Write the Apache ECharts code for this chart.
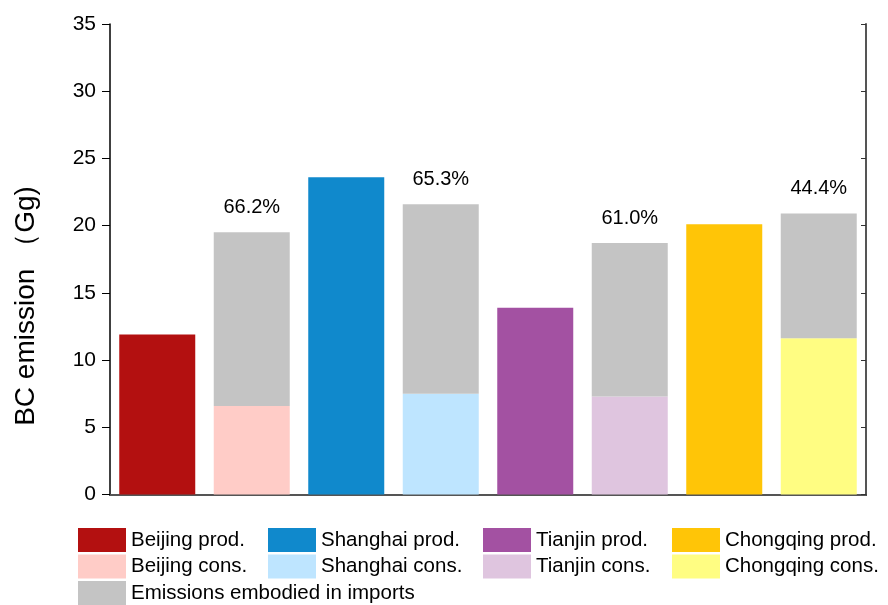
<!DOCTYPE html>
<html>
<head>
<meta charset="utf-8">
<script src="https://cdn.jsdelivr.net/npm/echarts@6/dist/echarts.min.js"></script>
<style>
  html, body { margin: 0; padding: 0; background: #fff; }
  #chart { width: 888px; height: 605px; }
</style>
</head>
<body>
<div id="chart"></div>
<script>
// Bar slots, left to right
const categories = ['Beijing prod.', 'Beijing cons.', 'Shanghai prod.', 'Shanghai cons.',
                    'Tianjin prod.', 'Tianjin cons.', 'Chongqing prod.', 'Chongqing cons.'];
const cities = ['Beijing', 'Shanghai', 'Tianjin', 'Chongqing'];

// Production-based BC emissions (Gg)
const productionEmission = [11.9, 23.6, 13.9, 20.1];
// Consumption-based BC emissions (Gg)
const consumptionEmission = [19.5, 21.6, 18.7, 20.9];
// Share of consumption-based emissions embodied in imports (%)
const importShare = [66.2, 65.3, 61.0, 44.4];

const yTicks = { min: 0, max: 35, interval: 5 };

const prodColors = ['#B31010', '#1089CC', '#A351A2', '#FFC507'];
const consColors = ['#FFCCC7', '#BEE5FF', '#DFC5DF', '#FFFD82'];
const importColor = '#C4C4C4';

const FONT = 'Liberation Sans, Arial, sans-serif';
const BAR_W = 76;

function slotData(cityIdx, isCons, value) {
  const arr = categories.map(() => '-');
  arr[cityIdx * 2 + (isCons ? 1 : 0)] = value;
  return arr;
}

const series = [];
cities.forEach((c, i) => {
  series.push({
    name: c + ' prod.', type: 'bar', stack: 'total', barWidth: BAR_W,
    itemStyle: { color: prodColors[i] },
    data: slotData(i, false, productionEmission[i])
  });
});
cities.forEach((c, i) => {
  const domestic = +(consumptionEmission[i] * (1 - importShare[i] / 100)).toFixed(3);
  series.push({
    name: c + ' cons.', type: 'bar', stack: 'total', barWidth: BAR_W,
    itemStyle: { color: consColors[i] },
    data: slotData(i, true, domestic)
  });
});
// Imported share stacked on top of the domestic part of each consumption bar
const importData = categories.map(() => '-');
cities.forEach((c, i) => {
  importData[i * 2 + 1] = +(consumptionEmission[i] * importShare[i] / 100).toFixed(3);
});
series.push({
  name: 'Emissions embodied in imports', type: 'bar', stack: 'total', barWidth: BAR_W,
  itemStyle: { color: importColor },
  label: {
    show: true, position: 'top', distance: 15,
    fontFamily: FONT, fontSize: 20, color: '#000',
    formatter: p => importShare[(p.dataIndex - 1) / 2].toFixed(1) + '%'
  },
  data: importData
});

const legendBase = {
  orient: 'vertical', top: 528, height: 100, padding: 0,
  itemWidth: 48, itemHeight: 24, itemGap: 2.5,
  icon: 'rect', selectedMode: false,
  textStyle: { fontFamily: FONT, fontSize: 20.5, color: '#000' }
};

const chart = echarts.init(document.getElementById('chart'), null, { renderer: 'canvas' });
chart.setOption({
  animation: false,
  backgroundColor: '#fff',
  grid: { left: 110, right: 22, top: 24, bottom: 110.5 },
  xAxis: [
    {
      type: 'category', data: categories, position: 'bottom',
      axisLine: { lineStyle: { color: '#000', width: 2 } },
      axisTick: { show: false }, axisLabel: { show: false }
    },
    {
      type: 'category', data: categories, position: 'top',
      axisLine: { lineStyle: { color: '#555', width: 2 } },
      axisTick: { show: false }, axisLabel: { show: false }
    }
  ],
  yAxis: [
    {
      type: 'value', position: 'left', min: yTicks.min, max: yTicks.max, interval: yTicks.interval,
      axisLine: { show: true, lineStyle: { color: '#000', width: 1.5 } },
      axisTick: { show: true, length: 8, lineStyle: { color: '#000' } },
      axisLabel: { fontFamily: FONT, fontSize: 21, color: '#000', margin: 14 },
      splitLine: { show: false }
    },
    {
      type: 'value', position: 'right', min: yTicks.min, max: yTicks.max, interval: yTicks.interval,
      axisLine: { show: true, lineStyle: { color: '#555', width: 2 } },
      axisTick: { show: true, inside: true, length: 5, lineStyle: { color: '#333' } },
      axisLabel: { show: false },
      splitLine: { show: false }
    }
  ],
  legend: [
    Object.assign({}, legendBase, { left: 78, data: ['Beijing prod.', 'Beijing cons.', 'Emissions embodied in imports'] }),
    Object.assign({}, legendBase, { left: 268, data: ['Shanghai prod.', 'Shanghai cons.'] }),
    Object.assign({}, legendBase, { left: 483, data: ['Tianjin prod.', 'Tianjin cons.'] }),
    Object.assign({}, legendBase, { left: 672, data: ['Chongqing prod.', 'Chongqing cons.'] })
  ],
  graphic: [{
    type: 'text', x: 26, y: 306, rotation: Math.PI / 2,
    style: {
      text: 'BC emission （Gg)', fontFamily: FONT, fontSize: 28, fill: '#000',
      align: 'center', verticalAlign: 'middle'
    }
  }],
  series: series
});
</script>
</body>
</html>
